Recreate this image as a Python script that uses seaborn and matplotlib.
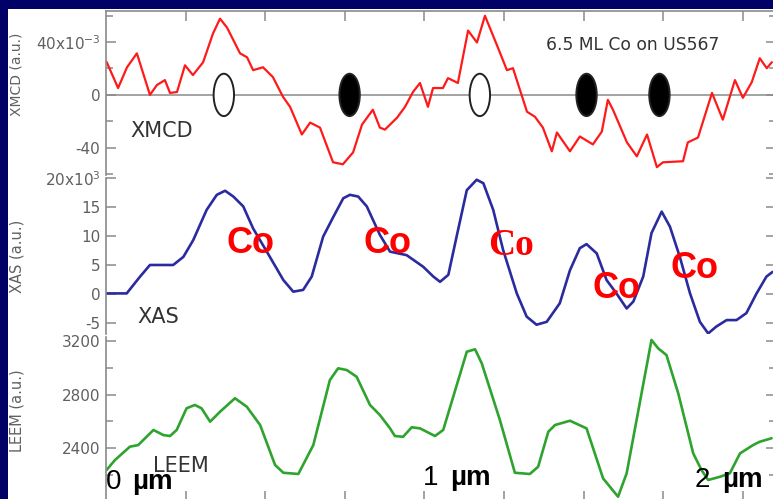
import matplotlib
matplotlib.use("Agg")
import matplotlib.pyplot as plt
from matplotlib.patches import Ellipse, Rectangle
from matplotlib.ticker import FixedLocator, FixedFormatter
import pandas as pd
import seaborn as sns

# ---- line profiles across the sample (position in micrometres) ----
xmcd_x = [0.002, 0.038, 0.066, 0.097, 0.138, 0.160, 0.185, 0.201, 0.223, 0.248,
          0.273, 0.305, 0.336, 0.358, 0.380, 0.421, 0.443, 0.462, 0.493, 0.524,
          0.556, 0.578, 0.615, 0.641, 0.672, 0.713, 0.744, 0.776, 0.804, 0.838,
          0.860, 0.876, 0.914, 0.939, 0.964, 0.986, 1.011, 1.027, 1.058, 1.074,
          1.105, 1.137, 1.165, 1.190, 1.228, 1.259, 1.278, 1.322, 1.347, 1.372,
          1.400, 1.416, 1.457, 1.488, 1.529, 1.557, 1.576, 1.592, 1.636, 1.667,
          1.699, 1.730, 1.749, 1.812, 1.827, 1.859, 1.903, 1.937, 1.975, 2.000,
          2.028, 2.053, 2.075, 2.091]
xmcd_y = [24.9, 5.2, 20.9, 31.4, 0.0, 7.5, 11.2, 1.5, 2.2, 22.4,
          15.0, 24.7, 46.4, 57.6, 50.9, 31.4, 28.4, 18.7, 20.9, 13.5,
          -1.5, -9.0, -29.9, -20.9, -24.7, -50.9, -52.4, -43.4, -22.4, -11.2,
          -24.7, -26.2, -17.2, -9.0, 2.2, 9.0, -9.0, 5.2, 5.2, 12.7,
          9.0, 48.6, 39.6, 59.8, 37.4, 18.7, 20.2, -12.7, -16.5, -24.7,
          -42.6, -28.4, -42.6, -31.4, -37.4, -27.7, -3.7, -11.2, -35.9, -46.4,
          -29.9, -54.6, -50.9, -50.1, -35.9, -32.2, 1.5, -18.7, 11.2, -2.2,
          9.7, 27.7, 20.2, 24.7]

xas_x = [0.000, 0.065, 0.107, 0.138, 0.211, 0.243, 0.274, 0.316, 0.348, 0.374,
         0.400, 0.431, 0.462, 0.505, 0.557, 0.588, 0.619, 0.646, 0.682, 0.714,
         0.745, 0.766, 0.792, 0.819, 0.860, 0.892, 0.944, 0.996, 1.028, 1.049,
         1.075, 1.101, 1.133, 1.164, 1.185, 1.216, 1.247, 1.290, 1.321, 1.352,
         1.384, 1.425, 1.457, 1.488, 1.509, 1.541, 1.572, 1.603, 1.635, 1.656,
         1.687, 1.713, 1.745, 1.771, 1.802, 1.834, 1.865, 1.891, 1.917, 1.949,
         1.980, 2.011, 2.043, 2.074, 2.093]
xas_y = [0.1, 0.1, 3.0, 5.0, 5.0, 6.4, 9.3, 14.5, 17.1, 17.8,
         16.8, 15.1, 11.3, 7.3, 2.4, 0.4, 0.7, 3.0, 9.9, 13.3,
         16.5, 17.1, 16.8, 15.1, 10.2, 7.3, 6.7, 4.7, 3.0, 2.1,
         3.3, 9.9, 17.9, 19.7, 19.1, 14.5, 7.6, 0.1, -3.9, -5.3,
         -4.8, -1.6, 4.1, 7.9, 8.6, 7.0, 2.4, 0.1, -2.5, -1.3,
         3.0, 10.5, 14.2, 11.6, 6.4, 0.1, -4.8, -6.8, -5.6, -4.5,
         -4.5, -3.3, 0.1, 3.0, 3.8]

leem_x = [0.002, 0.028, 0.075, 0.101, 0.149, 0.180, 0.201, 0.222, 0.253, 0.279,
          0.300, 0.327, 0.358, 0.405, 0.442, 0.484, 0.531, 0.557, 0.604, 0.651,
          0.703, 0.729, 0.756, 0.787, 0.829, 0.860, 0.892, 0.907, 0.933, 0.960,
          0.986, 1.033, 1.059, 1.133, 1.159, 1.180, 1.237, 1.284, 1.331, 1.357,
          1.389, 1.410, 1.457, 1.509, 1.561, 1.608, 1.635, 1.713, 1.734, 1.760,
          1.797, 1.844, 1.870, 1.891, 1.928, 1.959, 1.991, 2.032, 2.053, 2.090]
leem_y = [2236, 2310, 2410, 2422, 2535, 2497, 2490, 2535, 2697, 2722,
          2697, 2597, 2671, 2772, 2709, 2572, 2273, 2215, 2206, 2422,
          2908, 2996, 2983, 2933, 2722, 2647, 2547, 2490, 2484, 2555,
          2547, 2490, 2535, 3120, 3138, 3033, 2609, 2215, 2206, 2260,
          2522, 2572, 2604, 2547, 2173, 2036, 2211, 3208, 3145, 3095,
          2809, 2360, 2236, 2161, 2185, 2211, 2360, 2422, 2447, 2473]

# magnetic domains marked on the XMCD trace (open / filled)
domain_x = [0.370, 0.765, 1.174, 1.509, 1.738]
domain_filled = [False, True, False, True, True]

# Co island labels on the XAS trace
co_x = [0.455, 0.885, 1.272, 1.604, 1.849]
co_y = [7.1, 7.1, 6.7, -0.7, 2.8]
co_serif = [False, False, True, False, False]

# position labels along the scan
pos_num = ["0", "1", "2"]

x_ticks = [0.25, 0.5, 0.75, 1.0, 1.25, 1.5, 1.75, 2.0]

xmcd_major = [-40, 0, 40]
xmcd_major_lbl = ["-40", "0", "40x10$^{-3}$"]
xmcd_minor = [-60, -20, 20, 60]
xas_major = [-5, 0, 5, 10, 15, 20]
xas_major_lbl = ["-5", "0", "5", "10", "15", "20x10$^3$"]
leem_major = [2400, 2800, 3200]
leem_major_lbl = ["2400", "2800", "3200"]
leem_minor = [2200, 2600, 3000]

sns.set_theme(style="ticks")
plt.rcParams["font.family"] = ["DejaVu Sans"]

W, H = 773, 499
fig = plt.figure(figsize=(W / 100, H / 100), dpi=100)
fig.patch.set_facecolor("#000066")
fig.add_artist(Rectangle((8 / W, 0), 1, (H - 9) / H, transform=fig.transFigure,
                         facecolor="white", edgecolor="none", zorder=0))


def fx(px):
    return px / W


def fy(py):
    return (H - py) / H


def add_panel(top_px, bot_px):
    left, right = 106, 776
    return fig.add_axes([fx(left), fy(bot_px), (right - left) / W, (bot_px - top_px) / H])


ax_m = add_panel(11, 175)
ax_a = add_panel(178, 334)
ax_l = add_panel(337, 501)

grey = "#8a8a8a"
label_grey = "#606060"
for ax in (ax_m, ax_a, ax_l):
    ax.set_facecolor("white")
    ax.set_xlim(0, 2.104)
    for s in ax.spines.values():
        s.set_color(grey)
        s.set_linewidth(1.2)
    ax.spines["top"].set_visible(False)
    ax.spines["bottom"].set_visible(False)
    ax.xaxis.set_major_locator(FixedLocator(x_ticks))
    ax.tick_params(axis="both", which="both", direction="in", color=grey,
                   labelcolor=label_grey, labelsize=11, width=1.1,
                   left=True, right=True, top=False, bottom=False,
                   labelbottom=False, labeltop=False, pad=4)
    ax.tick_params(which="major", length=7)
    ax.tick_params(which="minor", length=5)

ax_m.spines["top"].set_visible(True)
ax_m.tick_params(axis="x", top=True)
ax_l.spines["bottom"].set_visible(True)
ax_l.tick_params(axis="x", bottom=True)

ylab_x = (24 - 106) / 670

# XMCD panel
ax_m.set_ylim(-60.5, 63.4)
ax_m.axhline(0, color=grey, lw=1.1, zorder=1)
sns.lineplot(data=pd.DataFrame({"x": xmcd_x, "y": xmcd_y}), x="x", y="y", ax=ax_m,
             color="#ff1a1a", lw=1.6, sort=False, estimator=None, zorder=2)
for xd, filled in zip(domain_x, domain_filled):
    ax_m.add_patch(Ellipse((xd, 0), width=0.064, height=32,
                           facecolor="black" if filled else "white",
                           edgecolor="#222222", lw=1.4, zorder=3))
ax_m.yaxis.set_major_locator(FixedLocator(xmcd_major))
ax_m.yaxis.set_major_formatter(FixedFormatter(xmcd_major_lbl))
ax_m.yaxis.set_minor_locator(FixedLocator(xmcd_minor))
ax_m.set_xlabel("")
ax_m.set_ylabel("XMCD (a.u.)", fontsize=10, color=label_grey)
ax_m.yaxis.set_label_coords(ylab_x, (175 - 74) / 164)
ax_m.text(fx(130), fy(137), "XMCD", transform=fig.transFigure, fontsize=15,
          color="#333333", ha="left", va="baseline")
ax_m.text(fx(546), fy(50), "6.5 ML Co on US567", transform=fig.transFigure,
          fontsize=12.3, color="#333333", ha="left", va="baseline")

# XAS panel
ax_a.set_ylim(-6.9, 20.0)
sns.lineplot(data=pd.DataFrame({"x": xas_x, "y": xas_y}), x="x", y="y", ax=ax_a,
             color="#2b2ba0", lw=1.9, sort=False, estimator=None)
ax_a.yaxis.set_major_locator(FixedLocator(xas_major))
ax_a.yaxis.set_major_formatter(FixedFormatter(xas_major_lbl))
ax_a.set_xlabel("")
ax_a.set_ylabel("XAS (a.u.)", fontsize=10.5, color=label_grey)
ax_a.yaxis.set_label_coords(ylab_x, 0.5)
ax_a.text(fx(137), fy(323), "XAS", transform=fig.transFigure, fontsize=15,
          color="#333333", ha="left", va="baseline")
for cx, cy, serif in zip(co_x, co_y, co_serif):
    ax_a.text(cx, cy, "Co", color="#ff0000", fontsize=26 if not serif else 27,
              fontweight="bold", ha="center", va="baseline", zorder=5,
              family=["Liberation Serif"] if serif else ["Liberation Sans"])

# LEEM panel
ax_l.set_ylim(2004, 3230)
sns.lineplot(data=pd.DataFrame({"x": leem_x, "y": leem_y}), x="x", y="y", ax=ax_l,
             color="#2ea32e", lw=1.9, sort=False, estimator=None)
ax_l.yaxis.set_major_locator(FixedLocator(leem_major))
ax_l.yaxis.set_major_formatter(FixedFormatter(leem_major_lbl))
ax_l.yaxis.set_minor_locator(FixedLocator(leem_minor))
ax_l.set_xlabel("")
ax_l.set_ylabel("LEEM (a.u.)", fontsize=10.5, color=label_grey)
ax_l.yaxis.set_label_coords(ylab_x, (501 - 411) / 164)
ax_l.text(fx(153), fy(472), "LEEM", transform=fig.transFigure, fontsize=15,
          color="#333333", ha="left", va="baseline")

# scan position labels
num_left = [106, 423, 695]
unit_left = [132, 450, 722]
base_y = [489, 485, 487]
for n, nl, ul, by in zip(pos_num, num_left, unit_left, base_y):
    fig.text(fx(nl), fy(by), n, fontsize=20, color="black", ha="left",
             va="baseline", family=["Liberation Sans"], zorder=10)
    fig.text(fx(ul), fy(by), "\u00b5m", fontsize=20, color="black",
             fontweight="bold", ha="left", va="baseline",
             family=["Liberation Sans"], zorder=10)

fig.savefig("out.png", dpi=100, facecolor=fig.get_facecolor())
